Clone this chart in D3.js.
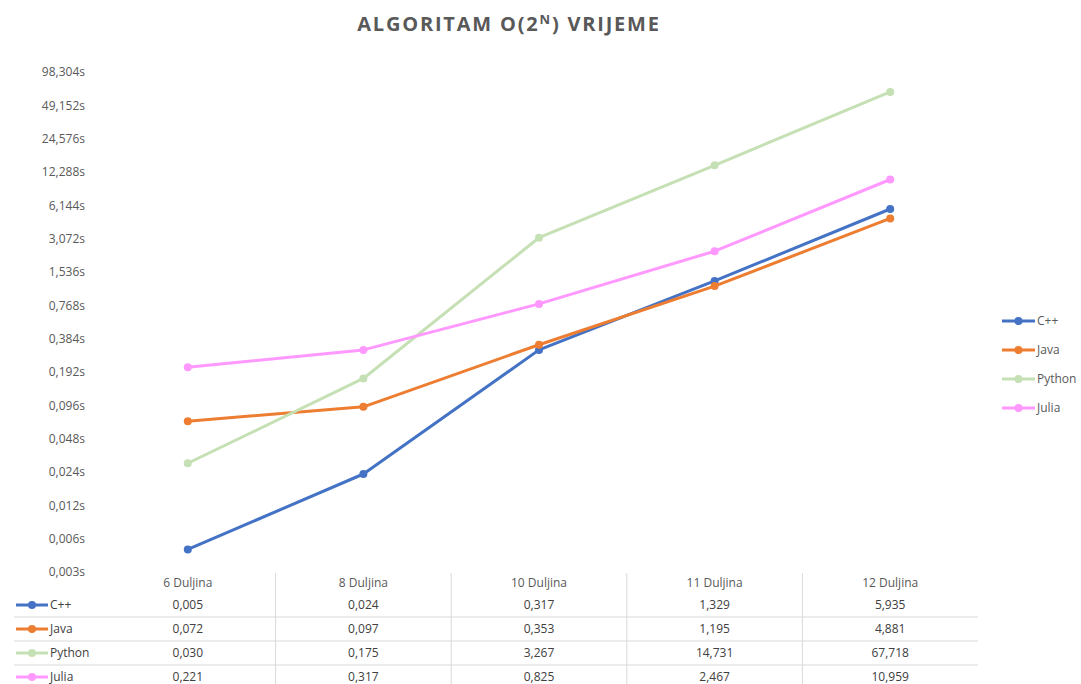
<!DOCTYPE html>
<meta charset="utf-8">
<script src="https://cdn.jsdelivr.net/npm/d3@7"></script>
<style>
  body { margin: 0; background: #fff; }
  text { font-family: "Open Sans", "Noto Sans", sans-serif; }
</style>
<div id="chart"></div>
<script>
const categories = ["6 Duljina", "8 Duljina", "10 Duljina", "11 Duljina", "12 Duljina"];
const seriesNames = ["C++", "Java", "Python", "Julia"];
const cppValues    = [0.005, 0.024, 0.317, 1.329, 5.935];
const javaValues   = [0.072, 0.097, 0.353, 1.195, 4.881];
const pythonValues = [0.030, 0.175, 3.267, 14.731, 67.718];
const juliaValues  = [0.221, 0.317, 0.825, 2.467, 10.959];
const yTicks = [0.003, 0.006, 0.012, 0.024, 0.048, 0.096, 0.192, 0.384, 0.768,
                1.536, 3.072, 6.144, 12.288, 24.576, 49.152, 98.304];

const colors = ["#4472C4", "#ED7D31", "#C5E0B4", "#FF99FF"];
const series = seriesNames.map((name, i) => ({
  name, color: colors[i],
  values: [cppValues, javaValues, pythonValues, juliaValues][i]
}));

const W = 1081, H = 684;
const plot = {left: 100, right: 978, top: 74, bottom: 574};

const svg = d3.select("#chart").append("svg")
    .attr("width", W).attr("height", H);

// title
const title = svg.append("text")
    .attr("x", 509).attr("y", 31)
    .attr("text-anchor", "middle")
    .attr("fill", "#595959")
    .style("font-size", "20px")
    .style("font-weight", "bold")
    .style("letter-spacing", "1.8px");
title.append("tspan").text("ALGORITAM O(2");
title.append("tspan").attr("dy", -7).style("font-size", "13px").text("N");
title.append("tspan").attr("dy", 7).text(") VRIJEME");

const x = d3.scaleBand()
    .domain(categories)
    .range([plot.left, plot.right]);

const y = d3.scaleLog().base(2)
    .domain([0.003, 98.304])
    .range([plot.bottom, plot.top]);

const fmt = v => d3.format(".3f")(v).replace(".", ",");

// y axis labels (no axis line, no gridlines)
const yAxis = svg.append("g")
    .attr("transform", `translate(${plot.left}, 0)`)
    .call(d3.axisLeft(y).tickValues(yTicks).tickSize(0).tickPadding(15)
      .tickFormat(d => fmt(d) + "s"));
yAxis.select(".domain").remove();
yAxis.selectAll("text")
    .attr("y", -2)
    .attr("fill", "#595959")
    .style("font-size", "12px")
    .style("font-family", "'Open Sans', sans-serif");

// lines and markers
const line = d3.line()
    .x((d, i) => x(categories[i]) + x.bandwidth() / 2)
    .y(d => y(d));

const g = svg.append("g");
series.forEach(s => {
  g.append("path")
      .datum(s.values)
      .attr("d", line)
      .attr("fill", "none")
      .attr("stroke", s.color)
      .attr("stroke-width", 3)
      .attr("stroke-linejoin", "round");
  g.selectAll(null)
      .data(s.values)
      .join("circle")
        .attr("cx", (d, i) => x(categories[i]) + x.bandwidth() / 2)
        .attr("cy", d => y(d))
        .attr("r", 4)
        .attr("fill", s.color);
});

// legend on the right
const legend = svg.append("g");
series.forEach((s, i) => {
  const ly = 321 + i * 29;
  legend.append("line")
      .attr("x1", 1002).attr("x2", 1035).attr("y1", ly).attr("y2", ly)
      .attr("stroke", s.color).attr("stroke-width", 3);
  legend.append("circle")
      .attr("cx", 1018.5).attr("cy", ly).attr("r", 4).attr("fill", s.color);
  legend.append("text")
      .attr("x", 1037).attr("y", ly + 4)
      .attr("fill", "#595959")
      .style("font-size", "12px")
      .text(s.name);
});

// data table
const table = svg.append("g");
const headerY = 583, rowH = 24, firstRowY = 605;
categories.forEach((c, i) => {
  table.append("text")
      .attr("x", x(c) + x.bandwidth() / 2).attr("y", headerY + 4)
      .attr("text-anchor", "middle")
      .attr("fill", "#595959")
      .style("font-size", "12px")
      .text(c);
  if (i > 0) {
    table.append("line")
        .attr("x1", x(c)).attr("x2", x(c))
        .attr("y1", 573).attr("y2", H)
        .attr("stroke", "#d9d9d9").attr("stroke-width", 1);
  }
});
series.forEach((s, r) => {
  const ry = firstRowY + r * rowH;
  if (r > 0) {
    table.append("line")
        .attr("x1", 14).attr("x2", plot.right)
        .attr("y1", ry - 12).attr("y2", ry - 12)
        .attr("stroke", "#d9d9d9").attr("stroke-width", 1);
  }
  table.append("line")
      .attr("x1", 16).attr("x2", 48).attr("y1", ry).attr("y2", ry)
      .attr("stroke", s.color).attr("stroke-width", 3);
  table.append("circle")
      .attr("cx", 32).attr("cy", ry).attr("r", 4).attr("fill", s.color);
  table.append("text")
      .attr("x", 50).attr("y", ry + 4)
      .attr("fill", "#404040")
      .style("font-size", "12px")
      .text(s.name);
  s.values.forEach((v, i) => {
    table.append("text")
        .attr("x", x(categories[i]) + x.bandwidth() / 2).attr("y", ry + 4)
        .attr("text-anchor", "middle")
        .attr("fill", "#404040")
        .style("font-size", "12px")
        .text(fmt(v));
  });
});
</script>
